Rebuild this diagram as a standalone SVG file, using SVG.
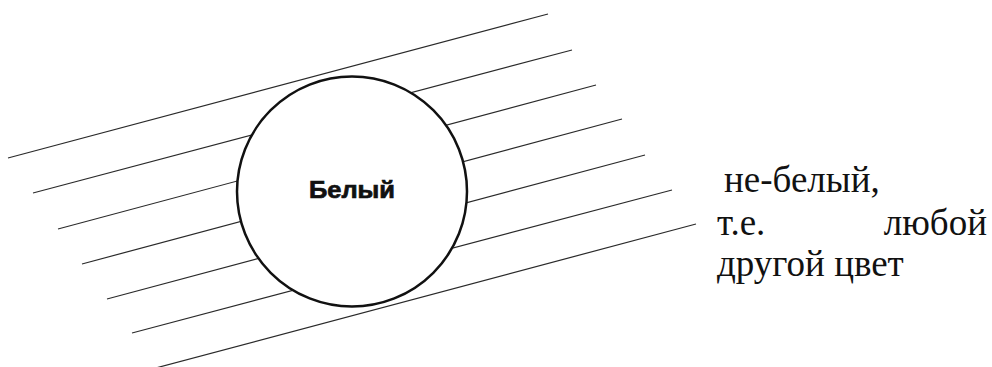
<svg xmlns="http://www.w3.org/2000/svg" width="992" height="367" viewBox="0 0 992 367">
<style>
.hatch line{stroke:#2a2a2a;stroke-width:1.2;fill:none}
.circ{fill:#ffffff;stroke:#111111;stroke-width:2.5}
.lbl{font-family:"Liberation Sans",Arial,sans-serif;font-weight:bold;font-size:23px;fill:#111111;stroke:#111111;stroke-width:0.7}
.note{font-family:"Liberation Serif","Times New Roman",serif;font-size:37px;fill:#111111}
</style>
<rect width="992" height="367" fill="#ffffff"/>
<g id="hatching" class="hatch">
<line x1="8" y1="158" x2="548" y2="14"/>
<line x1="33" y1="193" x2="572" y2="50"/>
<line x1="58" y1="229" x2="596" y2="85"/>
<line x1="82" y1="264" x2="622" y2="119"/>
<line x1="107" y1="299" x2="645" y2="155"/>
<line x1="132" y1="333" x2="672" y2="190"/>
<line x1="152" y1="369" x2="696" y2="224"/>
</g>
<g id="white">
<circle class="circ" cx="352" cy="191.5" r="115"/>
<text class="lbl" x="309" y="198" textLength="86" lengthAdjust="spacingAndGlyphs">Белый</text>
</g>
<g id="not-white">
<text class="note" x="724" y="192">не-белый,</text>
<text class="note" x="717" y="235">т.е.</text>
<text class="note" x="987" y="235" text-anchor="end">любой</text>
<text class="note" x="717" y="276">другой цвет</text>
</g>
</svg>
